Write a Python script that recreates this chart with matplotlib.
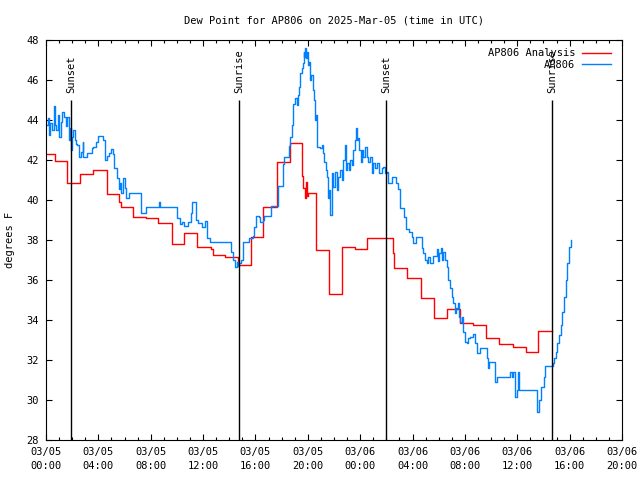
import matplotlib
matplotlib.use('Agg')
import matplotlib.pyplot as plt
import numpy as np

###--- Data (hours since 03/05 00:00 UTC) ---###
title = 'Dew Point for AP806 on 2025-Mar-05 (time in UTC)'

# AP806 Analysis (stepped)
anl_hours = [0.05, 0.69, 1.58, 2.60, 3.61, 4.64, 5.60, 5.71, 6.62, 7.64, 8.58, 9.60,
             10.54, 11.56, 12.58, 12.73, 13.67, 14.69, 15.64, 16.60, 17.62, 18.64,
             19.58, 19.66, 19.77, 19.86, 19.96, 20.04, 20.63, 21.62, 22.61, 23.60,
             24.55, 26.53, 26.60, 27.56, 28.62, 29.64, 30.61, 31.63, 32.64, 33.61,
             34.63, 35.65, 36.65, 37.56, 38.68]
anl_dewp = [42.28, 41.93, 40.83, 41.28, 41.48, 40.28, 39.92, 39.63, 39.13, 39.08, 38.87, 37.80,
            38.33, 37.63, 37.55, 37.25, 37.13, 36.75, 38.13, 39.63, 41.88, 42.83,
            41.20, 40.60, 40.10, 40.90, 40.20, 40.35, 37.50, 35.30, 37.63, 37.53,
            38.08, 37.33, 36.58, 36.08, 35.08, 34.08, 34.53, 33.87, 33.73, 33.08,
            32.80, 32.63, 32.38, 33.47, 33.47]

# AP806 observations
obs_hours = [0.05, 0.13, 0.23, 0.31, 0.46, 0.61, 0.69, 0.76, 0.88, 1.02, 1.15, 1.22, 1.37, 1.49,
             1.58, 1.73, 1.80, 1.89, 1.96, 2.09, 2.19, 2.29, 2.39, 2.54, 2.65, 2.80, 2.85,
             3.11, 3.36, 3.49, 3.61, 3.82, 4.00, 4.25, 4.38, 4.53, 4.64, 4.81, 4.94, 5.10,
             5.19, 5.45, 5.55, 5.65, 5.73, 5.86, 6.01, 6.11, 6.36, 7.23, 7.64, 8.65, 8.71,
             9.98, 10.24, 10.39, 10.54, 10.87, 11.05, 11.18, 11.44, 11.63, 11.94, 12.12,
             12.32, 12.53, 14.13, 14.31, 14.44, 14.57, 14.67, 14.77, 14.90, 15.03, 15.48,
             15.79, 15.91, 16.04, 16.25, 16.35, 16.55, 16.68, 17.19, 17.70, 18.08, 18.20,
             18.54, 18.59, 18.66, 18.77, 18.89, 19.04, 19.15, 19.25, 19.35, 19.43, 19.53,
             19.61, 19.69, 19.73, 19.81, 19.86, 19.94, 20.01, 20.07, 20.17, 20.27, 20.37,
             20.45, 20.55, 20.63, 20.73, 20.93, 21.08, 21.14, 21.26, 21.37, 21.49, 21.57,
             21.64, 21.70, 21.82, 21.95, 22.08, 22.21, 22.33, 22.46, 22.59, 22.71, 22.84,
             22.92, 23.02, 23.12, 23.22, 23.35, 23.47, 23.58, 23.66, 23.73, 23.83, 23.93,
             24.04, 24.14, 24.24, 24.37, 24.50, 24.62, 24.75, 24.88, 25.00, 25.13, 25.26,
             25.44, 25.64, 25.77, 25.90, 26.03, 26.15, 26.41, 26.71, 26.91, 27.04, 27.35,
             27.50, 27.75, 27.94, 28.06, 28.26, 28.70, 28.82, 28.95, 29.08, 29.20, 29.33,
             29.54, 29.85, 29.92, 30.04, 30.17, 30.25, 30.35, 30.48, 30.61, 30.73, 30.86,
             30.99, 31.11, 31.24, 31.32, 31.45, 31.53, 31.63, 31.76, 31.88, 32.01, 32.14,
             32.26, 32.39, 32.64, 32.77, 32.90, 33.15, 33.67, 33.74, 33.86, 34.30, 34.43,
             35.45, 35.57, 35.70, 35.83, 35.96, 36.08, 36.16, 37.48, 37.53, 37.68, 37.79,
             38.04, 38.12, 38.71, 38.81, 38.94, 39.06, 39.19, 39.32, 39.44, 39.57, 39.70,
             39.82, 39.95, 40.08, 40.14]
obs_dewp = [43.75, 44.10, 43.25, 43.85, 43.50, 44.70, 43.75, 43.50, 44.25, 43.15, 43.90, 44.40, 44.15, 43.70,
            44.15, 43.00, 43.60, 42.50, 43.15, 43.50, 43.00, 42.80, 42.75, 42.15, 42.40, 42.90, 42.15,
            42.35, 42.35, 42.60, 42.65, 42.90, 43.20, 43.20, 43.00, 42.00, 42.20, 42.35, 42.55, 42.30,
            41.60, 41.10, 40.55, 40.85, 40.35, 41.10, 40.60, 40.10, 40.35, 39.35, 39.65, 39.90, 39.65,
            39.10, 38.80, 38.90, 38.70, 38.90, 39.35, 39.90, 39.00, 38.85, 38.65, 38.95,
            38.10, 37.90, 37.40, 37.00, 36.65, 36.90, 36.70, 36.85, 37.00, 37.90, 38.10,
            38.20, 38.65, 39.20, 39.15, 38.90, 39.00, 39.20, 39.70, 40.70, 41.80, 42.15,
            42.30, 42.70, 43.15, 43.75, 44.80, 45.10, 44.75, 45.25, 45.65, 46.35, 46.60,
            46.85, 47.40, 47.15, 47.60, 47.10, 47.40, 46.75, 46.90, 46.00, 46.25, 45.50,
            45.00, 44.00, 44.25, 42.65, 42.60, 42.75, 42.35, 41.90, 41.50, 41.15, 40.10,
            40.50, 39.25, 41.35, 40.65, 41.40, 40.50, 41.15, 41.50, 41.00, 42.00, 42.75,
            41.50, 41.85, 41.50, 42.00, 41.75, 42.50, 43.00, 43.60, 43.00, 43.10, 42.50,
            41.90, 42.50, 42.15, 42.65, 42.15, 41.90, 42.15, 41.35, 41.85, 41.60, 41.85,
            41.35, 41.60, 41.65, 41.35, 41.40, 40.85, 41.15, 40.85, 40.55, 39.60, 39.15,
            38.55, 38.40, 38.15, 37.85, 38.15, 37.60, 37.35, 37.00, 36.85, 37.15, 36.85,
            37.20, 37.55, 36.95, 37.35, 37.60, 37.00, 37.40, 37.00, 36.65, 36.00, 35.60,
            35.15, 34.85, 34.35, 34.60, 34.85, 34.15, 33.90, 34.15, 33.40, 32.90, 32.85,
            33.10, 33.15, 33.30, 32.85, 32.35, 32.60, 32.10, 31.60, 31.90, 30.90, 31.15,
            31.40, 31.15, 31.40, 30.15, 30.50, 31.40, 30.50, 29.95, 29.40, 30.00, 30.65,
            31.15, 31.70, 31.85, 32.10, 32.40, 32.85, 33.25, 33.75, 34.40, 35.15, 36.00,
            36.85, 37.65, 37.90, 38.00]

sun_hours = [1.93, 14.74, 26.00, 38.68]
sun_labels = ['Sunset', 'Sunrise', 'Sunset', 'Sunrise']

tick_hours = [0, 4, 8, 12, 16, 20, 24, 28, 32, 36, 40, 44]
tick_labels = ['03/05\n00:00', '03/05\n04:00', '03/05\n08:00', '03/05\n12:00',
               '03/05\n16:00', '03/05\n20:00', '03/06\n00:00', '03/06\n04:00',
               '03/06\n08:00', '03/06\n12:00', '03/06\n16:00', '03/06\n20:00']

###--- Plot ---###
plt.rcParams['font.family'] = 'DejaVu Sans Mono'
fs = 7.5

fig = plt.figure(figsize=(6.4, 4.8), dpi=100)
ax = fig.add_axes([46/640, 40/480, 576/640, 400/480])

ax.plot(anl_hours, anl_dewp, color='#ff0000', lw=1.0, drawstyle='steps-post', label='AP806 Analysis')
ax.plot(obs_hours, obs_dewp, color='#0080ff', lw=1.0, drawstyle='steps-post', label='AP806')

for h, lab in zip(sun_hours, sun_labels):
    ax.vlines(h, 28, 45, color='black', lw=1.0)
    ax.text(h, 45.35, lab, rotation=90, ha='center', va='bottom', fontsize=fs)

ax.set_xlim(0, 44)
ax.set_ylim(28, 48)
ax.set_xticks(tick_hours)
ax.set_xticklabels(tick_labels, fontsize=fs, linespacing=1.5)
ax.set_xticks(np.arange(0, 45, 1), minor=True)
ax.set_yticks(np.arange(28, 49, 2))
ax.tick_params(axis='both', which='major', direction='in', length=4.5, width=0.8,
               top=True, right=True, labelsize=fs, pad=5)
ax.tick_params(axis='x', which='minor', direction='in', length=2.5, width=0.8, top=True)
for s in ax.spines.values():
    s.set_linewidth(0.8)

ax.set_ylabel('degrees F', fontsize=fs, labelpad=8)
ax.set_title(title, fontsize=fs, pad=12)

ax.legend(loc='upper right', bbox_to_anchor=(0.995, 1.0), frameon=False, markerfirst=False,
          fontsize=fs, handlelength=2.8, handletextpad=0.6, labelspacing=0.15,
          borderaxespad=0.4)

fig.savefig('out.png', dpi=100)
